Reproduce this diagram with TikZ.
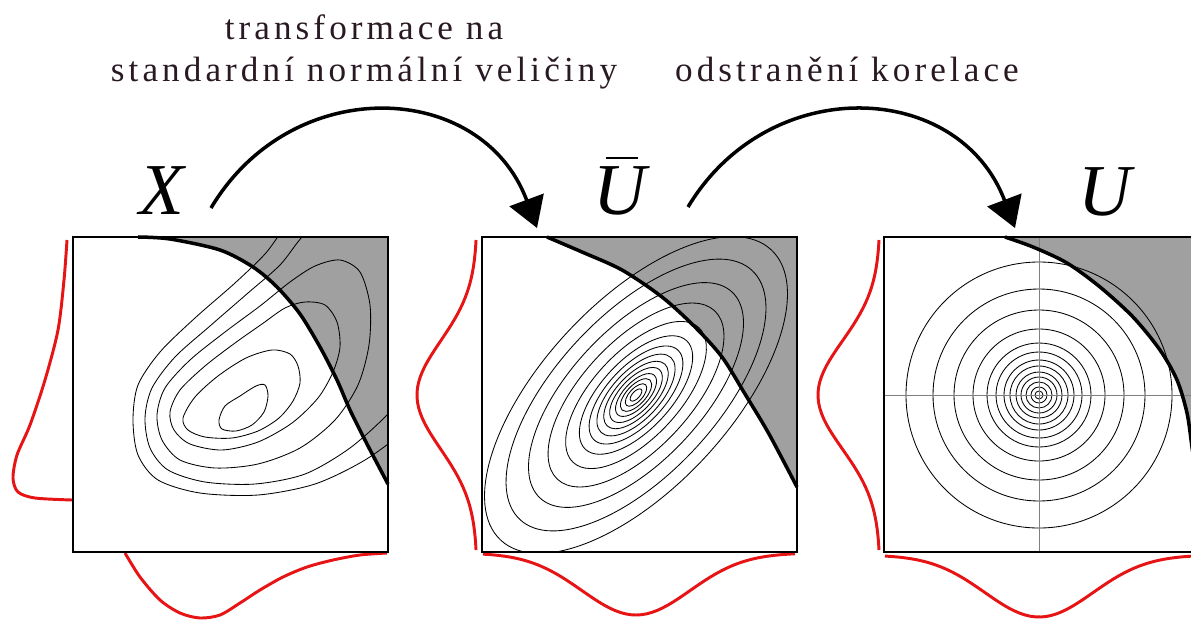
\documentclass[tikz,border=0pt]{standalone}
\usepackage{fontspec}
\setmainfont{Liberation Serif}
\newfontfamily\spacedfont[LetterSpace=11.6]{Liberation Serif}
\usetikzlibrary{arrows.meta,calc}

\definecolor{failgray}{RGB}{160,160,160}
\definecolor{margred}{RGB}{230,20,20}
\definecolor{inkdark}{RGB}{40,25,35}

\newcommand{\barU}{\makebox[0pt][l]{\hspace{0.17em}\raisebox{0.75em}{\rule{0.44em}{0.03em}}}U}

\begin{document}
\begin{tikzpicture}[x=0.025cm, y=-0.025cm,
  >={Triangle[length=0.75cm, width=0.9cm]},
  box/.style={line width=1.4pt},
  limit/.style={line width=2.5pt},
  contour/.style={line width=0.6pt},
  axisline/.style={line width=0.4pt, gray},
  marginal/.style={margred, line width=2.1pt},
  caption/.style={font=\fontsize{25}{30}\spacedfont, text=inkdark, inner sep=0pt, anchor=base},
  varlabel/.style={font=\fontsize{52}{54}\selectfont\itshape, inner sep=0pt, anchor=base},
  flow/.style={->, line width=2.5pt}]

\useasboundingbox (0,0) rectangle (1191,619);
\clip (0,0) rectangle (1191,619);

% centres of the normal densities
\coordinate (c2) at (636,395);
\coordinate (c3) at (1039,395);

% panel X
\fill[failgray] plot[smooth] coordinates {(138,237) (170,239) (220,250) (253,267) (277,287)
  (300,314) (320,347) (337,380) (350,410) (367,444) (388,484)} -- (388,237) -- cycle;
\begin{scope}
  \clip (73,237) rectangle (388,552);
  \draw[contour] plot[smooth cycle] coordinates {(219,420) (225,406) (240,396) (256,386)
    (265,385) (268,396) (264,412) (252,425) (236,431) (222,429)};
  \draw[contour] plot[smooth cycle] coordinates {(183,418) (195,397) (218,376) (246,358)
    (272,350) (290,354) (298,366) (300,383) (293,401) (279,418) (258,431) (232,438)
    (205,437) (188,430)};
  \draw[contour] plot[smooth cycle] coordinates {(170,412) (180,390) (205,366) (235,343)
    (262,324) (285,308) (305,302) (325,305) (337,322) (340,347) (333,372) (318,398)
    (292,423) (258,442) (222,450) (190,444) (174,430)};
  \draw[contour] plot[smooth cycle] coordinates {(157,415) (165,388) (190,360) (225,332)
    (260,306) (290,282) (315,266) (340,260) (360,272) (370,305) (369,345) (358,385)
    (335,420) (300,448) (258,464) (215,468) (180,460) (162,440)};
  \draw[contour] plot[smooth cycle] coordinates {(145,418) (152,388) (175,357) (210,326)
    (248,293) (280,265) (302,237) (330,210) (390,195) (420,240) (425,320) (410,385)
    (390,412) (350,448) (305,474) (255,484) (205,482) (168,470) (150,448)};
  \draw[contour] plot[smooth cycle] coordinates {(133,420) (138,385) (160,352) (195,318)
    (235,283) (265,254) (285,228) (320,195) (380,180) (430,220) (445,320) (430,400)
    (405,430) (365,460) (315,484) (258,495) (200,493) (158,480) (138,455)};
\end{scope}
\draw[limit] plot[smooth] coordinates {(138,237) (170,239) (220,250) (253,267) (277,287)
  (300,314) (320,347) (337,380) (350,410) (367,444) (388,484)};
\draw[marginal] plot[smooth] coordinates {(67,240) (64,280) (58,330) (45,380) (30,425)
  (17,455) (13,478) (18,492) (35,498) (72,500)};
\draw[marginal] plot[smooth] coordinates {(125,553) (140,577) (160,600) (180,613) (200,618)
  (220,615) (240,603) (260,590) (283,577) (307,567) (333,560) (360,555) (387,553)};
\draw[box] (73,237) rectangle (388,552);

% panel U bar
\fill[failgray] plot[smooth] coordinates {(547,237) (582,252) (622,270) (662,297) (695,327)
  (722,357) (745,394) (769,434) (797,487)} -- (797,237) -- cycle;
\begin{scope}
  \clip (482,237) rectangle (797,552);
  \foreach \r in {6,11,16,21,27,33,40,48,58,72,90,110,133,155}
    \draw[contour, rotate around={47:(c2)}] (c2) ellipse ({1.28*\r} and {0.6*\r});
\end{scope}
\draw[limit] plot[smooth] coordinates {(547,237) (582,252) (622,270) (662,297) (695,327)
  (722,357) (745,394) (769,434) (797,487)};
\draw[marginal] plot[domain=240:550, samples=60] ({477-60*exp(-0.5*((\x-395)/54)^2)}, \x);
\draw[marginal] plot[domain=483:795, samples=60] (\x, {553+62*exp(-0.5*((\x-636)/54)^2)});
\draw[box] (482,237) rectangle (797,552);

% panel U
\fill[failgray] plot[smooth] coordinates {(1005,237) (1033,247) (1067,263) (1100,287)
  (1133,317) (1160,350) (1177,380) (1187,413) (1192,447) (1198,490)} -- (1200,237) -- cycle;
\begin{scope}
  \clip (884,237) rectangle (1199,552);
  \foreach \r in {4,8,13,18,23,29,35,43,52,66,85,106,133}
    \draw[contour] (c3) circle (\r);
  \draw[axisline] (884,395) -- (1199,395);
  \draw[axisline] (1039,237) -- (1039,552);
\end{scope}
\draw[limit] plot[smooth] coordinates {(1005,237) (1033,247) (1067,263) (1100,287)
  (1133,317) (1160,350) (1177,380) (1187,413) (1192,447) (1198,490)};
\draw[marginal] plot[domain=240:550, samples=60] ({880-62*exp(-0.5*((\x-395)/54)^2)}, \x);
\draw[marginal] plot[domain=885:1191, samples=60] (\x, {555+62*exp(-0.5*((\x-1039)/54)^2)});
\draw[box] (884,237) rectangle (1199,552);

% labels
\node[varlabel] (lblX) at (162,214) {X};
\node[varlabel] (lblUbar) at (620,214) {\barU};
\node[varlabel] (lblU) at (1105,215) {U};

\node[caption] (capA1) at (364,39) {transformace na};
\node[caption] (capA2) at (364,81) {standardní normální veličiny};
\node[caption] (capB) at (847,81) {odstranění korelace};

% transformation arrows
\coordinate (fromX) at (211,208);
\coordinate (toUbar) at (537,228);
\coordinate (fromUbar) at (688,207);
\coordinate (toU) at (1015,228);
\draw[flow] (fromX) .. controls (292,72) and (482,80) .. (toUbar);
\draw[flow] (fromUbar) .. controls (769,72) and (959,80) .. (toU);

\end{tikzpicture}
\end{document}
